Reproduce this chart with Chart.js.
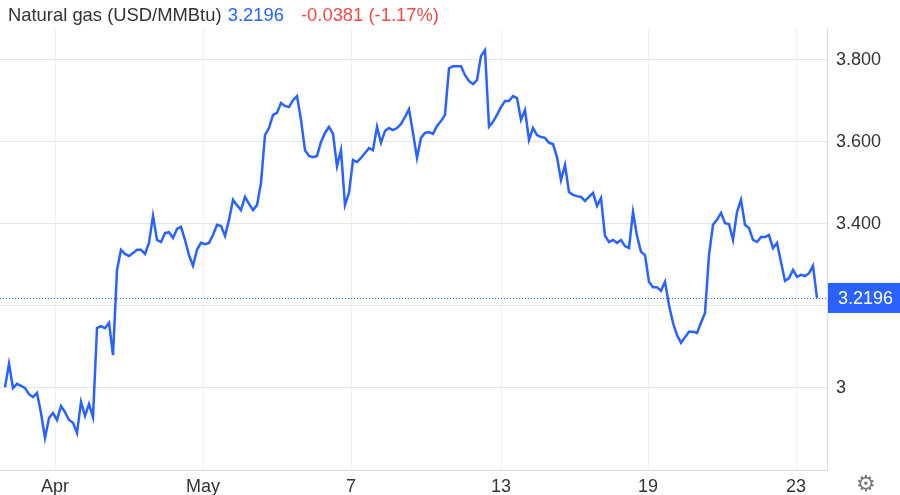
<!DOCTYPE html>
<html>
<head>
<meta charset="utf-8">
<script src="https://cdn.jsdelivr.net/npm/chart.js@4.4.1/dist/chart.umd.min.js"></script>
<style>
  body { margin: 0; background: #fff; }
  #wrap { position: relative; width: 900px; height: 495px; }
  #head { position: absolute; left: 8px; top: 6px; font: 18.4px Arial, "Liberation Sans", sans-serif; line-height: 18px; color: #333; white-space: nowrap; }
  #head .last { color: #2962ff; margin-left: 1px; }
  #head .chg { color: #f04a4a; margin-left: 17px; }
  #gear { position: absolute; left: 856px; top: 471px; font: 22px "DejaVu Sans", sans-serif; color: #777; }
</style>
</head>
<body>
<div id="wrap">
  <canvas id="gasChart"></canvas>
  <div id="head">Natural gas (USD/MMBtu) <span class="last" id="lastVal"></span><span class="chg" id="chgVal"></span></div>
  <div id="gear">&#9881;</div>
</div>
<script>
// Natural gas price, intraday series (USD/MMBtu)
const prices = [
  3.002, 3.059, 3.000, 3.010, 3.005, 3.000, 2.985, 2.978, 2.988, 2.939,
  2.878, 2.927, 2.939, 2.922, 2.956, 2.941, 2.922, 2.915, 2.890, 2.966,
  2.932, 2.961, 2.929, 3.146, 3.151, 3.146, 3.159, 3.080, 3.288, 3.337,
  3.327, 3.322, 3.329, 3.337, 3.337, 3.327, 3.354, 3.420, 3.361, 3.356,
  3.378, 3.380, 3.366, 3.388, 3.393, 3.361, 3.324, 3.298, 3.337, 3.354,
  3.351, 3.354, 3.373, 3.398, 3.395, 3.371, 3.410, 3.459, 3.446, 3.434,
  3.466, 3.449, 3.434, 3.446, 3.500, 3.617, 3.634, 3.666, 3.671, 3.695,
  3.688, 3.685, 3.702, 3.712, 3.654, 3.580, 3.566, 3.563, 3.566, 3.600,
  3.622, 3.637, 3.620, 3.541, 3.580, 3.446, 3.476, 3.556, 3.551, 3.561,
  3.573, 3.585, 3.580, 3.637, 3.598, 3.627, 3.634, 3.629, 3.634, 3.644,
  3.661, 3.680, 3.622, 3.561, 3.610, 3.622, 3.624, 3.620, 3.639, 3.651,
  3.666, 3.780, 3.785, 3.785, 3.785, 3.763, 3.749, 3.741, 3.751, 3.810,
  3.824, 3.637, 3.649, 3.666, 3.685, 3.700, 3.700, 3.712, 3.707, 3.654,
  3.678, 3.605, 3.634, 3.617, 3.612, 3.610, 3.598, 3.595, 3.563, 3.507,
  3.544, 3.478, 3.471, 3.468, 3.466, 3.456, 3.466, 3.476, 3.444, 3.463,
  3.371, 3.356, 3.361, 3.354, 3.361, 3.346, 3.341, 3.429, 3.371, 3.332,
  3.324, 3.259, 3.246, 3.246, 3.237, 3.259, 3.202, 3.159, 3.129, 3.110,
  3.124, 3.137, 3.137, 3.134, 3.159, 3.183, 3.324, 3.398, 3.410, 3.427,
  3.402, 3.400, 3.361, 3.429, 3.459, 3.398, 3.390, 3.361, 3.356, 3.368,
  3.368, 3.373, 3.341, 3.354, 3.307, 3.261, 3.268, 3.288, 3.271, 3.276,
  3.273, 3.280, 3.298, 3.2196
];

// where the date labels fall along the series (sample index)
const tickIndex = [12.5, 49.5, 86.5, 124, 160.75, 197.75];
const tickLabels = ["Apr", "May", "7", "13", "19", "23"];
const yTicks = [3.0, 3.2, 3.4, 3.6, 3.8];

const lastPrice = 3.2196;
const change = -0.0381;
const changePct = -1.17;

document.getElementById("lastVal").textContent = lastPrice.toFixed(4);
document.getElementById("chgVal").textContent =
  change.toFixed(4) + " (" + changePct.toFixed(2) + "%)";

const blue = "#2962ff";
const fontFamily = "Arial, 'Liberation Sans', sans-serif";

// dotted last-price line plus the price tag on the right axis
const lastPricePlugin = {
  id: "lastPrice",
  afterDraw(chart) {
    const { ctx, chartArea } = chart;
    const y = chart.scales.y.getPixelForValue(lastPrice);
    ctx.save();
    ctx.strokeStyle = blue;
    ctx.lineWidth = 1;
    ctx.setLineDash([1, 2]);
    ctx.beginPath();
    ctx.moveTo(chartArea.left, Math.round(y) + 0.5);
    ctx.lineTo(chartArea.right, Math.round(y) + 0.5);
    ctx.stroke();
    ctx.setLineDash([]);
    ctx.fillStyle = blue;
    ctx.fillRect(chartArea.right + 1, y - 15, chart.width - chartArea.right, 30);
    ctx.fillStyle = "#fff";
    ctx.font = "18px " + fontFamily;
    ctx.textBaseline = "middle";
    ctx.textAlign = "left";
    ctx.fillText(lastPrice.toFixed(4), chartArea.right + 11, y + 1);
    ctx.restore();
  }
};

const chartContext = document.getElementById("gasChart");
new Chart(chartContext, {
  type: "line",
  data: {
    datasets: [
      {
        label: "Natural gas",
        data: prices.map((p, i) => ({ x: i, y: p })),
        borderColor: blue,
        borderWidth: 2.5,
        pointRadius: 0,
        tension: 0,
        fill: false
      }
    ]
  },
  options: {
    responsive: true,
    maintainAspectRatio: false,
    animation: false,
    layout: { padding: { top: 28, left: 0, right: 0, bottom: 0 } },
    plugins: {
      legend: { display: false },
      tooltip: { enabled: false }
    },
    scales: {
      x: {
        type: "linear",
        min: -1.25,
        max: 205.5,
        afterBuildTicks: (scale) => {
          scale.ticks = tickIndex.map((v) => ({ value: v }));
        },
        afterFit: (scale) => { scale.height = 25; },
        ticks: {
          autoSkip: false,
          maxRotation: 0,
          padding: 6,
          color: "#333",
          font: { family: fontFamily, size: 18 },
          callback: (value) => tickLabels[tickIndex.indexOf(value)]
        },
        grid: { color: "#edf1f5", drawTicks: false },
        border: { display: true, color: "#dcdcdc", width: 1 }
      },
      y: {
        position: "right",
        min: 2.8,
        max: 3.878,
        afterBuildTicks: (scale) => {
          scale.ticks = yTicks.map((v) => ({ value: v }));
        },
        afterFit: (scale) => { scale.width = 73; },
        ticks: {
          padding: 9,
          color: "#333",
          font: { family: fontFamily, size: 18 },
          callback: (value) => {
            if (Math.abs(value - 3) < 1e-9) return "3";
            if (Math.abs(value - 3.2) < 1e-9) return "";
            return value.toFixed(3);
          }
        },
        grid: { color: "#e6e6e6", drawTicks: false },
        border: { display: true, color: "#dcdcdc", width: 1 }
      }
    }
  },
  plugins: [lastPricePlugin]
});
</script>
</body>
</html>
